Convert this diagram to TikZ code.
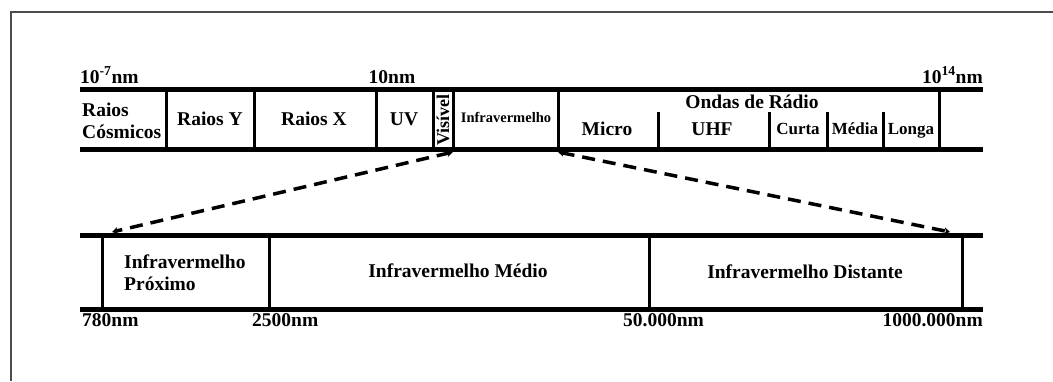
\documentclass[tikz,border=0pt]{standalone}
\usepackage{fontspec}
\setmainfont{Liberation Serif}
\usetikzlibrary{arrows.meta}
\begin{document}
\begin{tikzpicture}[x=1pt,y=-1pt,
  band/.style={line width=5pt},
  divider/.style={line width=3pt},
  framestyle/.style={line width=2pt, draw=black!70},
  lbl/.style={font=\bfseries\fontsize{19.5}{22}\selectfont, inner sep=0pt},
  lblsmall/.style={font=\bfseries\fontsize{14.5}{16}\selectfont, inner sep=0pt},
  lblnarrow/.style={font=\bfseries\fontsize{17}{20}\selectfont, inner sep=0pt},
  tickw/.style={lbl, anchor=base west},
  ticke/.style={lbl, anchor=base east},
  zoomline/.style={line width=3.5pt, dash pattern=on 13pt off 8pt,
     {Stealth[length=6pt,width=7pt]}-{Stealth[length=6pt,width=7pt]}}]
\useasboundingbox (0,0) rectangle (1053,381);
\fill[white] (0,0) rectangle (1053,381);
% frame (partially visible)
\draw[framestyle] (1053,12) -- (11,12) -- (11,381);

% ---------- upper band ----------
\draw[band] (80,89) -- (983,89);
\draw[band] (80,149) -- (983,149);
\foreach \x in {166,254,376,433,453,558,939}
  \draw[divider] (\x,89) -- (\x,149);
\foreach \x in {658,769,827,883}
  \draw[divider] (\x,112) -- (\x,149);

\coordinate (visbr) at (453,152);
\coordinate (irbr)  at (558,152);

\node[tickw] (l1) at (80,83) {10\textsuperscript{-7}nm};
\node[lbl, anchor=base] (l2) at (392,83) {10nm};
\node[ticke] (l3) at (983,83) {10\textsuperscript{14}nm};

\node[lbl, anchor=base west] (cos1) at (82,116) {Raios};
\node[lbl, anchor=base west] (cos2) at (82,138) {Cósmicos};
\node[lbl] (ry) at (210,119) {Raios Y};
\node[lbl] (rx) at (314,119) {Raios X};
\node[lbl] (uv) at (404,119) {UV};
\node[lbl, rotate=90, font=\bfseries\fontsize{18}{20}\selectfont] (vis) at (443,120) {Visível};
\node[lblsmall] (ir) at (506,117) {Infravermelho};
\node[lbl] (radio) at (752,102) {Ondas de Rádio};
\node[lbl] (micro) at (607,129) {Micro};
\node[lbl] (uhf) at (712,129) {UHF};
\node[lblnarrow, anchor=base] (curta) at (798,134) {Curta};
\node[lblnarrow, anchor=base] (media) at (855,134) {Média};
\node[lblnarrow, anchor=base] (longa) at (911,134) {Longa};

% ---------- lower band ----------
\draw[band] (80,235) -- (983,235);
\draw[band] (80,309) -- (983,309);
\foreach \x in {102,269,649,962}
  \draw[divider] (\x,235) -- (\x,309);

\coordinate (niral) at (112,232);
\coordinate (firar) at (950,232);

\node[lbl, anchor=base west] (nir1) at (124,268) {Infravermelho};
\node[lbl, anchor=base west] (nir2) at (124,290) {Próximo};
\node[lbl] (mir) at (458,271) {Infravermelho Médio};
\node[lbl] (fir) at (805,272) {Infravermelho Distante};

\node[tickw] (b1) at (82,326) {780nm};
\node[tickw] (b2) at (252,326) {2500nm};
\node[tickw] (b3) at (623,326) {50.000nm};
\node[ticke] (b4) at (983,326) {1000.000nm};

% ---------- zoom connectors ----------
\draw[zoomline] (visbr) -- (niral);
\draw[zoomline] (irbr) -- (firar);
\end{tikzpicture}
\end{document}
